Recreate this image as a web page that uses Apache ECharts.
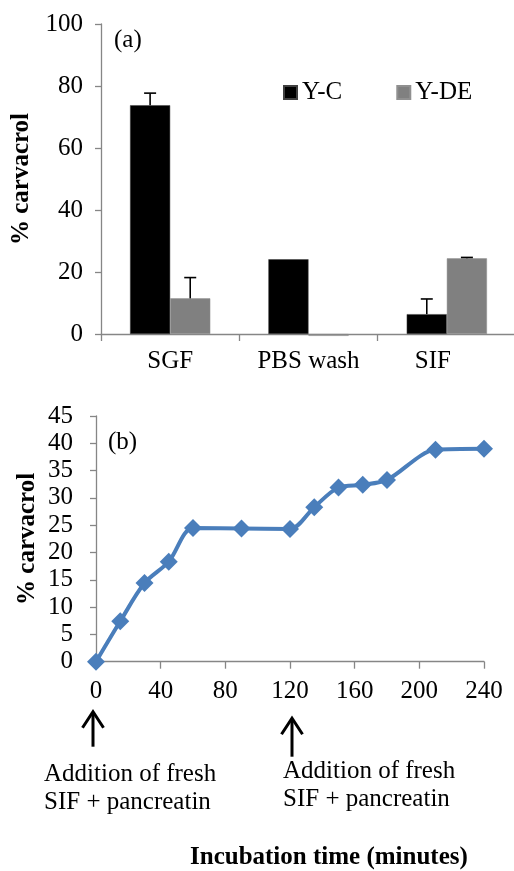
<!DOCTYPE html>
<html><head><meta charset="utf-8">
<script src="https://cdn.jsdelivr.net/npm/echarts@6/dist/echarts.min.js"></script>
<style>html,body{margin:0;padding:0;background:#fff}#c{width:514px;height:871px}</style>
</head><body><div id="c"></div>
<script>
// ---- Data (a) ----
const categories = ['SGF', 'PBS wash', 'SIF'];
const seriesNames = ['Y-C', 'Y-DE'];
const ycValues = [73.8, 24.1, 6.4];
const ydeValues = [11.5, -0.6, 24.4];
const ycErrors = [3.9, 0, 4.9];
const ydeErrors = [6.7, 0, 0.3];
const barAxisMax = 100;
const barAxisStep = 20;
// ---- Data (b) ----
const timeMinutes = [0, 15, 30, 45, 60, 90, 120, 135, 150, 165, 180, 210, 240];
const releaseValues = [0, 7.4, 14.4, 18.3, 24.5, 24.4, 24.3, 28.3, 31.9, 32.4, 33.3, 38.8, 39.0];
const lineXMax = 240, lineXStep = 40, lineYMax = 45, lineYStep = 5;
const additionTimes = [0, 120];
const additionText = 'Addition of fresh\nSIF + pancreatin';

const FONT = 'Liberation Serif';
const AXIS = '#868686';
const CAT_GAP = 0.42;

const errData = [];
ycErrors.forEach((e, i) => errData.push([i, ycValues[i], e, 0]));
ydeErrors.forEach((e, i) => errData.push([i, ydeValues[i], e, 1]));

const chart = echarts.init(document.getElementById('c'), null, {renderer: 'canvas'});
const txt = {fontFamily: FONT, fontSize: 25, color: '#000'};

chart.setOption({
  animation: false,
  backgroundColor: '#fff',
  grid: [
    {left: 101, top: 24, width: 415, height: 310, outerBoundsMode: 'none'},
    {left: 96, top: 416, width: 388, height: 245.7, outerBoundsMode: 'none'}
  ],
  legend: {
    data: seriesNames, left: 283, top: 80, padding: 0, itemGap: 54,
    icon: 'rect', itemWidth: 13, itemHeight: 13,
    textStyle: Object.assign({}, txt)
  },
  xAxis: [
    {
      type: 'category', gridIndex: 0, data: categories,
      axisLine: {lineStyle: {color: AXIS, width: 1.3}},
      axisTick: {show: true, length: 7, lineStyle: {color: AXIS, width: 1.3}},
      axisLabel: Object.assign({}, txt, {margin: 14.5,
        formatter: v => v === 'SIF' ? '{s|' + v + '}' : v,
        rich: {s: Object.assign({}, txt, {padding: [0, 28, 0, 0]})}
      })
    },
    {
      type: 'value', gridIndex: 1, min: 0, max: lineXMax, interval: lineXStep,
      splitLine: {show: false},
      axisLine: {lineStyle: {color: AXIS, width: 1.3}},
      axisTick: {show: true, length: 7, lineStyle: {color: AXIS, width: 1.3}},
      axisLabel: Object.assign({}, txt, {margin: 17})
    }
  ],
  yAxis: [
    {
      type: 'value', gridIndex: 0, min: 0, max: barAxisMax, interval: barAxisStep,
      splitLine: {show: false},
      axisLine: {show: true, lineStyle: {color: AXIS, width: 1.3}},
      axisTick: {show: true, length: 6, lineStyle: {color: AXIS, width: 1.3}},
      axisLabel: Object.assign({}, txt, {margin: 18}),
      name: '% carvacrol', nameLocation: 'middle', nameGap: 67, nameMoveOverlap: false,
      nameTextStyle: Object.assign({}, txt, {fontWeight: 'bold'})
    },
    {
      type: 'value', gridIndex: 1, min: 0, max: lineYMax, interval: lineYStep,
      splitLine: {show: false},
      axisLine: {show: true, lineStyle: {color: AXIS, width: 1.3}},
      axisTick: {show: true, length: 6, lineStyle: {color: AXIS, width: 1.3}},
      axisLabel: Object.assign({}, txt, {margin: 23}),
      name: '% carvacrol', nameLocation: 'middle', nameGap: 56, nameMoveOverlap: false,
      nameTextStyle: Object.assign({}, txt, {fontWeight: 'bold'})
    }
  ],
  series: [
    {
      name: seriesNames[0], type: 'bar', xAxisIndex: 0, yAxisIndex: 0,
      data: ycValues, barGap: '0%', barCategoryGap: (CAT_GAP * 100) + '%', clip: false,
      itemStyle: {color: '#000000', borderColor: '#404040', borderWidth: 0.5}
    },
    {
      name: seriesNames[1], type: 'bar', xAxisIndex: 0, yAxisIndex: 0,
      data: ydeValues, barGap: '0%', barCategoryGap: (CAT_GAP * 100) + '%', clip: false,
      itemStyle: {color: '#808080', borderColor: '#909090', borderWidth: 0.5}
    },
    {
      name: 'errors', type: 'custom', xAxisIndex: 0, yAxisIndex: 0, z: 5,
      data: errData, clip: false,
      renderItem: function (params, api) {
        const cat = api.value(0), val = api.value(1), err = api.value(2), side = api.value(3);
        if (!(err > 0)) return null;
        const band = api.size([1, 0])[0];
        const barW = band * (1 - CAT_GAP) / 2;
        const base = api.coord([cat, val]);
        const x = base[0] + (side === 0 ? -barW / 2 : barW / 2);
        const top = api.coord([cat, val + err])[1];
        const st = {stroke: '#000', lineWidth: 1.6};
        return {type: 'group', children: [
          {type: 'line', shape: {x1: x, y1: base[1], x2: x, y2: top}, style: st},
          {type: 'line', shape: {x1: x - 6, y1: top, x2: x + 6, y2: top}, style: st}
        ]};
      }
    },
    {
      name: 'release', type: 'line', xAxisIndex: 1, yAxisIndex: 1,
      data: timeMinutes.map((t, i) => [t, releaseValues[i]]),
      smooth: 0.3, clip: false,
      symbol: 'diamond', symbolSize: 18,
      lineStyle: {color: '#4A7EBB', width: 4},
      itemStyle: {color: '#4A7EBB'}
    }
  ]
});

// Annotations placed relative to the axes
const g = [];
g.push({type: 'text', style: {text: '(a)', x: 114, y: 40, verticalAlign: 'middle', font: '25px "Liberation Serif"', fill: '#000'}});
g.push({type: 'text', style: {text: '(b)', x: 108, y: 442, verticalAlign: 'middle', font: '25px "Liberation Serif"', fill: '#000'}});
const axisY = chart.convertToPixel({xAxisIndex: 1, yAxisIndex: 1}, [0, 0])[1];
const arrowSpecs = [{dx: -3, top: 50, bottom: 85, tx: -49, ty: 99}, {dx: 2, top: 56.5, bottom: 95, tx: -9, ty: 96}];
additionTimes.forEach((t, i) => {
  const s = arrowSpecs[i];
  const x = chart.convertToPixel({xAxisIndex: 1, yAxisIndex: 1}, [t, 0])[0] + s.dx;
  const yt = axisY + s.top, yb = axisY + s.bottom;
  const ls = {stroke: '#000', lineWidth: 3, fill: null};
  g.push({type: 'polyline', shape: {points: [[x, yt + 1], [x, yb]]}, style: ls});
  g.push({type: 'polyline', shape: {points: [[x - 10.5, yt + 16], [x, yt], [x + 10.5, yt + 16]]}, style: ls});
  g.push({type: 'text', style: {text: additionText, x: x + s.tx, y: axisY + s.ty, verticalAlign: 'top',
    lineHeight: 28, font: '25px "Liberation Serif"', fill: '#000'}});
});
g.push({type: 'text', style: {text: 'Incubation time (minutes)', x: 190, y: 858, verticalAlign: 'middle',
  font: 'bold 25px "Liberation Serif"', fill: '#000'}});
chart.setOption({graphic: g});
</script>
</body></html>
